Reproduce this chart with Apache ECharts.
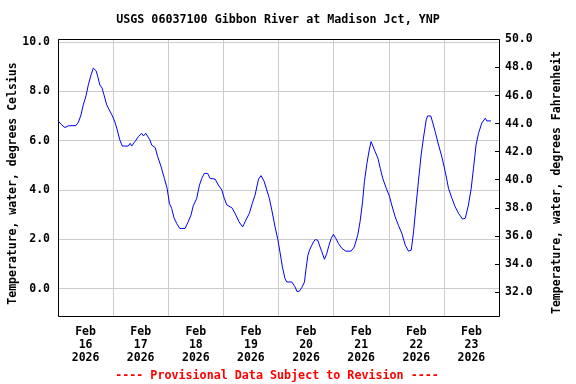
<!DOCTYPE html>
<html><head><meta charset="utf-8">
<script src="https://cdn.jsdelivr.net/npm/echarts@6/dist/echarts.min.js"></script>
<style>html,body{margin:0;padding:0;background:#fff}#c{width:576px;height:384px}</style>
</head><body><div id="c"></div>
<script>
const titleText = 'USGS 06037100 Gibbon River at Madison Jct, YNP';
const footerText = '---- Provisional Data Subject to Revision ----';
const leftName = 'Temperature, water, degrees Celsius';
const rightName = 'Temperature, water, degrees Fahrenheit';
// hours since 2026-02-16 00:00
const hours = [0,1.6,3,4.5,7.8,8.9,10,11,12.2,13.2,14.4,15.4,15.8,16.6,17.3,18.2,19.2,20,21.2,22.3,23.7,24.8,25.8,26.9,28,30.6,31.4,32.1,33.5,35,36.4,37.2,38.2,39,40,40.8,41.5,42.3,43.4,44.9,46.3,47.5,48.5,49.5,50.5,51.7,53,55.3,56.5,57.9,58.9,60.4,61.6,62.6,63.7,65.2,66.2,68.4,69.8,71.3,72.4,73.5,75.7,77.1,78.8,80.4,81.8,83.3,84.6,85.8,87.3,88.4,89.7,90.9,92,93.1,94.5,95.7,96.7,97.7,98.8,99.6,101.8,103.2,104,105,106.1,107.3,108,108.8,109.5,110.5,111.2,112,113.1,114.1,114.9,116,117,118,118.9,119.9,121,122.1,123.6,125.3,127.6,129,130.5,131.5,132.6,133.4,134.5,135.5,136.3,137.1,138.1,139.3,140.3,141.4,142.9,144.3,145.3,146.8,148.2,149.7,151.2,152.6,153.8,154.8,155.9,156.9,158.1,159.1,160.3,160.9,162.3,163.2,164.2,165.7,167.1,168.6,170,171.5,172.9,174.4,176.1,177.3,178.7,179.9,180.9,182,183.1,184.5,186,186.7,188.5];
const tempC = [6.80,6.64,6.53,6.60,6.61,6.75,7.04,7.45,7.82,8.26,8.67,8.94,8.98,8.83,8.60,8.26,8.13,7.86,7.45,7.25,7.00,6.75,6.43,6.03,5.78,5.78,5.89,5.78,5.96,6.16,6.30,6.19,6.30,6.26,6.03,5.82,5.89,5.72,5.35,4.94,4.47,4.07,3.46,3.25,2.87,2.64,2.44,2.44,2.67,2.98,3.36,3.66,4.20,4.47,4.67,4.67,4.47,4.44,4.20,4.00,3.66,3.39,3.28,3.05,2.71,2.50,2.78,3.05,3.46,3.79,4.44,4.58,4.36,4.00,3.66,3.18,2.50,2.00,1.45,0.88,0.41,0.27,0.27,0.07,-0.11,-0.11,0.03,0.27,0.81,1.35,1.56,1.76,1.89,1.99,1.96,1.69,1.49,1.19,1.42,1.76,2.03,2.20,2.03,1.83,1.63,1.52,1.52,1.69,2.17,2.71,3.52,4.33,5.08,5.62,5.96,5.96,5.55,5.28,4.88,4.47,4.07,3.75,3.39,2.91,2.57,2.24,1.76,1.52,1.56,2.30,3.39,4.33,5.42,6.10,6.84,7.00,7.00,6.71,6.37,5.82,5.35,4.74,4.07,3.66,3.32,3.05,2.82,2.85,3.39,4.07,4.88,5.82,6.30,6.71,6.91,6.80,6.80];
const dayLabels = ['Feb\n16\n2026','Feb\n17\n2026','Feb\n18\n2026','Feb\n19\n2026','Feb\n20\n2026','Feb\n21\n2026','Feb\n22\n2026','Feb\n23\n2026'];
const dayLabelHours = [12,36,60,84,108,132,156,180];
const celsiusTicks = [0,2,4,6,8,10];
const fahrenheitTicks = [32,34,36,38,40,42,44,46,48,50];

const F = 'DejaVu Sans Mono';
const txt = {fontFamily:F, fontWeight:'bold', fontSize:11.5, color:'#000'};
const G = {left:58, top:39, width:441, height:277};
const chart = echarts.init(document.getElementById('c'), null, {renderer:'canvas'});
chart.setOption({
  animation:false,
  backgroundColor:'#fff',
  grid:{left:G.left, top:G.top, width:G.width, height:G.height, outerBoundsMode:'none', containLabel:false, show:false},
  xAxis:{type:'value', min:0, max:192, interval:24,
    axisLine:{show:false}, axisTick:{show:false},
    splitLine:{show:true, lineStyle:{color:'#cccccc', width:1}},
    axisLabel:Object.assign({}, txt, {customValues:dayLabelHours, margin:10, lineHeight:13,
      formatter:(v)=>dayLabels[dayLabelHours.indexOf(v)] || ''})
  },
  yAxis:[
    {type:'value', min:-1.11, max:10.12, position:'left',
      name:leftName, nameLocation:'middle', nameRotate:90, nameGap:39, nameMoveOverlap:false,
      nameTextStyle:Object.assign({}, txt, {padding:[0,12,0,0]}),
      axisLine:{show:false},
      axisTick:{show:false, customValues:celsiusTicks},
      splitLine:{show:true, lineStyle:{color:'#cccccc', width:1}},
      axisLabel:Object.assign({}, txt, {customValues:celsiusTicks, margin:8, formatter:(v)=>v.toFixed(1)})
    },
    {type:'value', min:30.29, max:50.03, position:'right',
      name:rightName, nameLocation:'middle', nameRotate:90, nameGap:52, nameMoveOverlap:false,
      nameTextStyle:Object.assign({}, txt, {padding:[0,10,0,0]}),
      axisLine:{show:false},
      axisTick:{show:true, inside:true, length:4, customValues:fahrenheitTicks, lineStyle:{color:'#000'}},
      splitLine:{show:false},
      axisLabel:Object.assign({}, txt, {customValues:fahrenheitTicks, margin:6, formatter:(v)=>v.toFixed(1)})
    }
  ],
  graphic:[
    {type:'text', x:278, y:20, style:{text:titleText, font:'bold 11.7px "DejaVu Sans Mono"', fill:'#000', align:'center', verticalAlign:'middle'}},
    {type:'text', x:277, y:376, style:{text:footerText, font:'bold 11.7px "DejaVu Sans Mono"', fill:'#ff0000', align:'center', verticalAlign:'middle'}},
    {type:'rect', z:100, shape:{x:G.left+0.5, y:G.top+0.5, width:G.width, height:G.height}, style:{fill:'none', stroke:'#000', lineWidth:1}}
  ],
  series:[{type:'line', yAxisIndex:0, showSymbol:false, symbol:'none',
    lineStyle:{color:'#0000ff', width:1}, data:hours.map((h,i)=>[h,tempC[i]])}]
});
</script></body></html>
